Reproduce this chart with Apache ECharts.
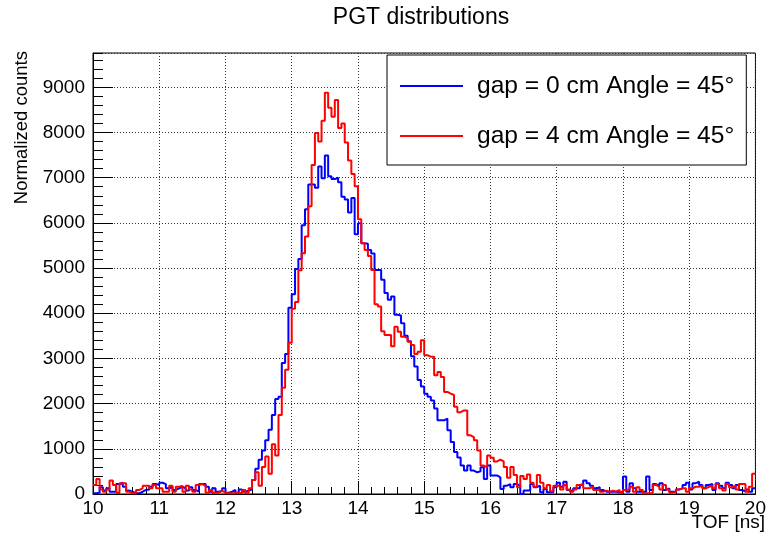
<!DOCTYPE html>
<html>
<head>
<meta charset="utf-8">
<title>PGT distributions</title>
<script src="https://cdn.jsdelivr.net/npm/echarts@6/dist/echarts.min.js"></script>
<style>
  html, body { margin: 0; padding: 0; background: #ffffff; }
  #chart { width: 769px; height: 537px; }
</style>
</head>
<body>
<div id="chart"></div>
<script>
// Histogram binning: 200 bins of 0.05 ns between 10 and 20 ns
const xMin = 10;
const xMax = 20;
const binWidth = 0.05;
const yMax = 9760;

const xTickValues = [10, 11, 12, 13, 14, 15, 16, 17, 18, 19, 20];
const yTickValues = [0, 1000, 2000, 3000, 4000, 5000, 6000, 7000, 8000, 9000];

const seriesNames = ['gap = 0 cm Angle = 45\u00b0', 'gap = 4 cm Angle = 45\u00b0'];

// Bin contents, gap = 0 cm
const gap0Counts = [
  15, 30, 150, 75, 125, 50, 50, 220, 250, 160,
  75, 50, 15, 15, 50, 90, 100, 160, 220, 200,
  250, 220, 125, 160, 90, 125, 160, 125, 75, 150,
  90, 50, 220, 220, 160, 50, 125, 50, 75, 125,
  30, 50, 90, 30, 100, 50, 75, 100, 310, 560,
  760, 960, 1190, 1420, 1750, 2100, 2150, 2900, 3100, 4120,
  4420, 4980, 5200, 5950, 6300, 6850, 6850, 6780, 7250, 6990,
  7490, 7030, 6970, 7000, 6900, 6580, 6520, 6230, 6550, 5750,
  5990, 5550, 5540, 5400, 5320, 4960, 4960, 4740, 4450, 4300,
  4370, 3965, 3950, 3780, 3500, 3380, 3050, 2820, 2525, 2380,
  2220, 2150, 2070, 1890, 1630, 1630, 1670, 1410, 1150, 930,
  810, 630, 520, 630, 520, 480, 500, 590, 330, 630,
  410, 410, 370, 110, 185, 220, 150, 220, 185, 0,
  75, 75, 220, 150, 185, 37, 110, 37, 37, 150,
  250, 160, 270, 90, 50, 125, 125, 200, 300, 240,
  180, 125, 150, 90, 50, 50, 50, 50, 30, 50,
  385, 50, 240, 125, 50, 50, 50, 385, 90, 220,
  180, 240, 90, 125, 50, 50, 100, 125, 200, 250,
  100, 240, 270, 200, 125, 200, 220, 90, 240, 180,
  125, 250, 200, 125, 200, 90, 50, 100, 50, 125
];

// Bin contents, gap = 4 cm
const gap4Counts = [
  200, 330, 100, 50, 100, 300, 200, 30, 240, 240,
  50, 15, 15, 90, 125, 180, 180, 125, 200, 125,
  125, 50, 50, 180, 50, 160, 180, 50, 180, 100,
  50, 200, 220, 180, 30, 90, 30, 30, 70, 30,
  15, 15, 15, 30, 15, 90, 15, 130, 310, 480,
  180, 600, 830, 450, 1100, 850, 1750, 2350, 2750, 3350,
  4100, 4250, 4950, 5330, 5700, 6370, 7280, 7990, 7800, 8260,
  8880, 8550, 8350, 8720, 8100, 8200, 7780, 7380, 7080, 6810,
  6080, 5550, 5400, 5270, 4960, 4200, 4150, 3600, 3520, 3520,
  3270, 3700, 3590, 3480, 3450, 3370, 3300, 3100, 3150, 3400,
  3070, 3040, 3040, 2630, 2700, 2590, 2260, 2220, 2190, 1930,
  1810, 1850, 1850, 1300, 1260, 1190, 960, 630, 590, 850,
  800, 720, 760, 720, 600, 360, 600, 420, 150, 400,
  330, 430, 250, 160, 420, 250, 130, 200, 60, 180,
  180, 100, 200, 100, 50, 100, 200, 220, 125, 125,
  160, 90, 100, 50, 75, 50, 75, 50, 90, 30,
  90, 100, 160, 50, 150, 90, 15, 15, 15, 200,
  160, 100, 200, 100, 30, 50, 100, 125, 125, 50,
  125, 160, 160, 180, 125, 160, 180, 125, 220, 125,
  75, 220, 150, 180, 100, 220, 220, 50, 160, 450
];

// Turn bin contents into step outline points at the bin edges
function histogramOutline(counts) {
  const pts = counts.map(function (c, i) { return [xMin + i * binWidth, c]; });
  pts.push([xMin + counts.length * binWidth, counts[counts.length - 1]]);
  return pts;
}

const FONT = '"Liberation Sans", Arial, Helvetica, sans-serif';
const chart = echarts.init(document.getElementById('chart'), null, { renderer: 'canvas' });

const gridBox = { left: 93, right: 6, top: 53, bottom: 43 };

chart.setOption({
  animation: false,
  backgroundColor: '#ffffff',
  textStyle: { fontFamily: FONT },
  grid: Object.assign({ show: true, borderColor: '#000', borderWidth: 1, backgroundColor: 'transparent', containLabel: false }, gridBox),
  graphic: [
    {
      type: 'text', x: 421, y: 18, z: 10,
      style: { text: 'PGT distributions', fontFamily: FONT, fontSize: 23, fill: '#000', align: 'center', verticalAlign: 'middle' }
    },
    {
      type: 'text', x: 22, y: 51, rotation: Math.PI / 2, z: 10,
      style: { text: 'Normalized counts', fontFamily: FONT, fontSize: 18.5, fill: '#000', align: 'right', verticalAlign: 'middle' }
    },
    {
      type: 'text', x: 765, y: 523, z: 10,
      style: { text: 'TOF [ns]', fontFamily: FONT, fontSize: 19, fill: '#000', align: 'right', verticalAlign: 'middle' }
    }
  ],
  legend: {
    data: seriesNames,
    orient: 'vertical',
    left: 387,
    top: 55,
    backgroundColor: '#ffffff',
    borderColor: '#000',
    borderWidth: 1,
    borderRadius: 0,
    padding: [17, 12, 15, 13],
    itemGap: 22,
    itemWidth: 63,
    itemHeight: 2,
    icon: 'rect',
    selectedMode: false,
    textStyle: { fontFamily: FONT, fontSize: 24.6, color: '#000', lineHeight: 28, padding: [0, 0, 0, 9] },
    z: 20
  },
  xAxis: [
    {
      type: 'value',
      min: xMin,
      max: xMax,
      interval: 1,
      axisLine: { show: true, onZero: false, lineStyle: { color: '#000', width: 1 } },
      axisTick: { show: true, inside: true, length: 13, lineStyle: { color: '#000', width: 1 } },
      minorTick: { show: true, splitNumber: 5, length: 7, lineStyle: { color: '#000', width: 1 } },
      axisLabel: {
        show: true, margin: 5, color: '#000', fontFamily: FONT, fontSize: 19,
        formatter: function (v) { return xTickValues.indexOf(Math.round(v)) >= 0 && Math.abs(v - Math.round(v)) < 1e-6 ? String(Math.round(v)) : ''; }
      },
      splitLine: { show: true, lineStyle: { color: '#333', width: 1, type: [1, 2] } }
    }
  ],
  yAxis: [
    {
      type: 'value',
      min: 0,
      max: yMax,
      interval: 1000,
      axisLine: { show: true, onZero: false, lineStyle: { color: '#000', width: 1 } },
      axisTick: { show: true, inside: true, length: 20, lineStyle: { color: '#000', width: 1 } },
      axisLabel: {
        show: true, margin: 8, color: '#000', fontFamily: FONT, fontSize: 19, showMaxLabel: false,
        formatter: function (v) { return yTickValues.indexOf(v) >= 0 ? String(v) : ''; }
      },
      splitLine: { show: true, lineStyle: { color: '#333', width: 1, type: [1, 2] } }
    },
    {
      // minor ticks every 200 counts
      type: 'value',
      position: 'left',
      min: 0,
      max: yMax,
      interval: 200,
      axisLine: { show: false },
      axisTick: { show: true, inside: true, length: 10, lineStyle: { color: '#000', width: 1 } },
      axisLabel: { show: false },
      splitLine: { show: false }
    }
  ],
  series: [
    {
      name: seriesNames[0],
      type: 'line',
      step: 'end',
      data: histogramOutline(gap0Counts),
      symbol: 'none',
      showSymbol: false,
      color: '#0000ff',
      lineStyle: { color: '#0000ff', width: 2 },
      xAxisIndex: 0,
      yAxisIndex: 0,
      clip: true,
      z: 3
    },
    {
      name: seriesNames[1],
      type: 'line',
      step: 'end',
      data: histogramOutline(gap4Counts),
      symbol: 'none',
      showSymbol: false,
      color: '#ff0000',
      lineStyle: { color: '#ff0000', width: 2 },
      xAxisIndex: 0,
      yAxisIndex: 0,
      clip: true,
      z: 4
    }
  ]
});
</script>
</body>
</html>
